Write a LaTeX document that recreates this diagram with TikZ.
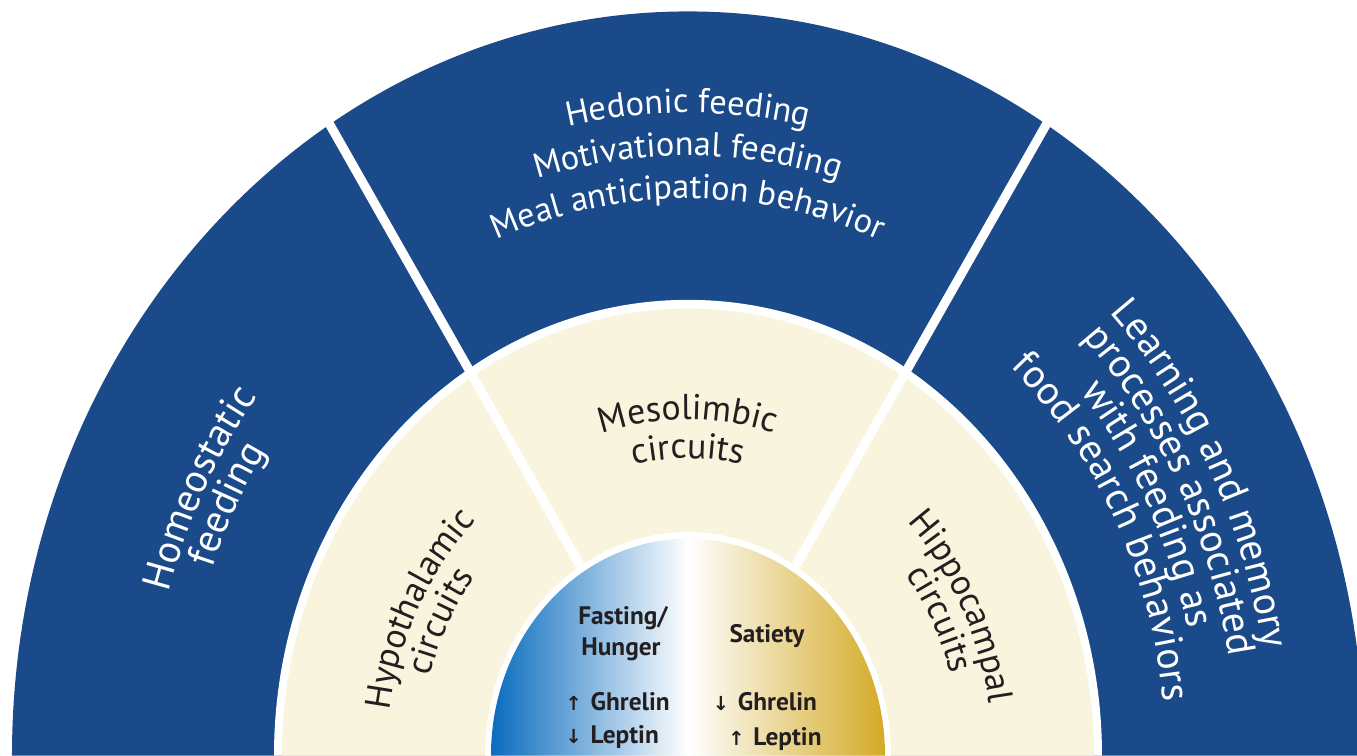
\documentclass[tikz,border=0pt]{standalone}
\usepackage{fontspec}
\setmainfont{PT Sans}
\newfontfamily\arrowfont{DejaVu Sans}
\usetikzlibrary{decorations.text}
\definecolor{feedBlue}{RGB}{26,74,138}
\definecolor{circuitCream}{RGB}{248,244,221}
\definecolor{hungerBlue}{RGB}{10,108,190}
\definecolor{satietyGold}{RGB}{212,170,38}
\definecolor{inkDark}{RGB}{35,31,32}
\newcommand\topfont{\fontsize{9.8}{12}\selectfont}
\newcommand\sidefont{\fontsize{11.4}{13}\selectfont}
\newcommand\circuitfont{\fontsize{10.2}{12}\selectfont}
\newcommand\hormarrow[1]{{\arrowfont\fontsize{5.5}{6}\selectfont #1}\hspace{2.5pt}}
\tikzset{
  toplabel/.style={decorate, decoration={text along path, text align=center,
              text color=white, text={|\topfont|#1}}},
  sidelabel/.style={decorate, decoration={text along path, text align=center,
              text color=white, text={|\sidefont|#1}}},
  circuitlabel/.style={decorate, decoration={text along path, text align=center,
              text color=inkDark, text={|\circuitfont|#1}}},
  hormone/.style={inner sep=0pt, text=inkDark, font=\bfseries\fontsize{7.2}{8}\selectfont},
  divider/.style={white, line width=2.6pt}
}

\begin{document}
\begin{tikzpicture}[x=0.01cm, y=0.011cm]
\useasboundingbox (-688,0) rectangle (669,686.4);
\clip (-688,0) rectangle (669,686.4);
\fill[feedBlue] (-676,0) arc[start angle=180, end angle=0, radius=676] -- cycle;
\fill[white] (-414,0) arc[start angle=180, end angle=0, radius=414] -- cycle;
\fill[circuitCream] (-406,0) arc[start angle=180, end angle=0, radius=406] -- cycle;
\fill[white] (-203,0) arc[start angle=180, end angle=0, radius=203] -- cycle;
\shade[left color=hungerBlue, right color=white]
  (-197,0) arc[start angle=180, end angle=90, radius=197] -- (0,0) -- cycle;
\shade[left color=white, right color=satietyGold]
  (0,197) arc[start angle=90, end angle=0, radius=197] -- (0,0) -- cycle;
\foreach \a in {58,122}
  \draw[divider] (\a:200) -- (\a:690);

\path[toplabel={Hedonic feeding}] (125:584) arc[start angle=125, end angle=55, radius=584];
\path[toplabel={Motivational feeding}] (125:545) arc[start angle=125, end angle=55, radius=545];
\path[toplabel={Meal anticipation behavior}] (125:506) arc[start angle=125, end angle=55, radius=506];

\path[sidelabel={Homeostatic}] (183:540) arc[start angle=183, end angle=123, radius=540];
\path[sidelabel={feeding}] (183:505) arc[start angle=183, end angle=123, radius=505];

\foreach \r/\txt in {583/Learning and memory, 548/processes associated,
                     513/with feeding as, 478/food search behaviors}
  \path[sidelabel={\txt}] (57:\r) arc[start angle=57, end angle=-3, radius=\r];

\path[circuitlabel={Mesolimbic}] (125:305) arc[start angle=125, end angle=55, radius=305];
\path[circuitlabel={circuits}] (125:270) arc[start angle=125, end angle=55, radius=270];
\path[circuitlabel={Hypothalamic}] (188:301) arc[start angle=188, end angle=118, radius=301];
\path[circuitlabel={circuits}] (188:268) arc[start angle=188, end angle=118, radius=268];
\path[circuitlabel={Hippocampal}] (62:305) arc[start angle=62, end angle=-8, radius=305];
\path[circuitlabel={circuits}] (62:273) arc[start angle=62, end angle=-8, radius=273];

\node[hormone, anchor=base] (fasting) at (-65,119.5) {Fasting/};
\node[hormone, anchor=base] (hunger) at (-67,90.9) {Hunger};
\node[hormone, anchor=base west] (ghrelinUp) at (-123,40.9) {\hormarrow{↑}Ghrelin};
\node[hormone, anchor=base west] (leptinDown) at (-123,10.9) {\hormarrow{↓}Leptin};
\node[hormone, anchor=base] (satiety) at (79,102.7) {Satiety};
\node[hormone, anchor=base] (ghrelinDown) at (77,40.9) {\hormarrow{↓}Ghrelin};
\node[hormone, anchor=base] (leptinUp) at (87,9.1) {\hormarrow{↑}Leptin};
\end{tikzpicture}
\end{document}
